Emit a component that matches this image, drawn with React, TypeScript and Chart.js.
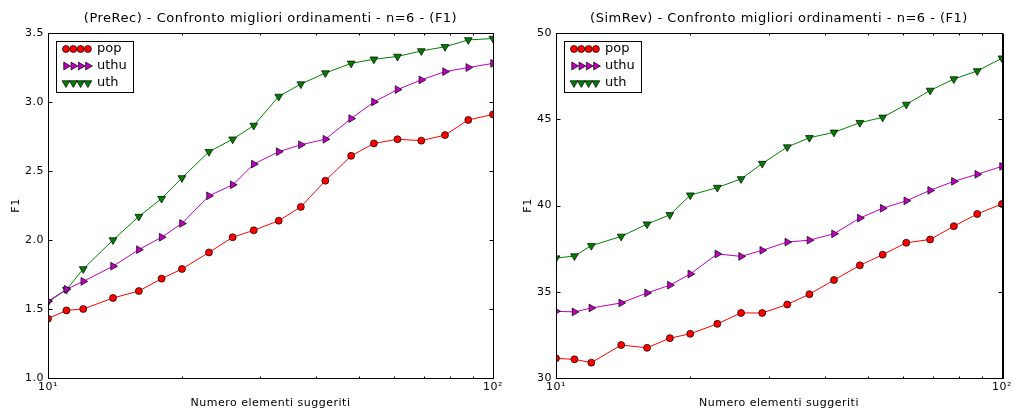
import React, { useEffect, useRef } from 'react';
import { Chart, registerables } from 'chart.js';

Chart.register(...registerables);

// ---------- data ----------
const xValues = [10, 11, 12, 14, 16, 18, 20, 23, 26, 29, 33, 37, 42, 48, 54, 61, 69, 78, 88, 100];

const preRecPop = [1.43, 1.49, 1.50, 1.58, 1.63, 1.72, 1.79, 1.91, 2.02, 2.07, 2.14, 2.24, 2.43, 2.61, 2.70, 2.73, 2.72, 2.76, 2.87, 2.91];
const preRecUthu = [1.556, 1.643, 1.70, 1.81, 1.93, 2.02, 2.12, 2.32, 2.40, 2.55, 2.64, 2.69, 2.73, 2.88, 3.00, 3.09, 3.16, 3.22, 3.25, 3.28];
const preRecUth = [1.55, 1.64, 1.79, 2.00, 2.17, 2.30, 2.45, 2.64, 2.73, 2.83, 3.04, 3.13, 3.21, 3.28, 3.31, 3.33, 3.37, 3.40, 3.45, 3.46];

const simRevPop = [31.14, 31.08, 30.89, 31.91, 31.75, 32.31, 32.56, 33.14, 33.77, 33.77, 34.26, 34.86, 35.68, 36.53, 37.15, 37.84, 38.03, 38.80, 39.51, 40.09];
const simRevUthu = [33.87, 33.83, 34.06, 34.35, 34.93, 35.38, 36.03, 37.19, 37.05, 37.40, 37.88, 37.99, 38.36, 39.27, 39.84, 40.27, 40.88, 41.40, 41.81, 42.27];
const simRevUth = [36.95, 37.07, 37.67, 38.21, 38.92, 39.46, 40.60, 41.04, 41.54, 42.43, 43.39, 43.93, 44.24, 44.80, 45.11, 45.86, 46.67, 47.33, 47.80, 48.54];

const seriesLabels = ['pop', 'uthu', 'uth'];
const seriesColors = ['#ff0000', '#bf00bf', '#008000'];
const seriesMarkers = ['circle', 'right', 'down'];

const xTickMarks = [10, 20, 30, 40, 50, 60, 70, 80, 90, 100];
const xMajorLabels: Record<number, string> = { 10: '10\u00b9', 100: '10\u00b2' };

const titleLeft = '(PreRec) - Confronto migliori ordinamenti - n=6 - (F1)';
const titleRight = '(SimRev) - Confronto migliori ordinamenti - n=6 - (F1)';
const xAxisLabel = 'Numero elementi suggeriti';
const yAxisLabel = 'F1';

const leftYRange = { min: 1.0, max: 3.5, step: 0.5, decimals: 1 };
const rightYRange = { min: 30, max: 50, step: 5, decimals: 0 };

const FONT = '"DejaVu Sans", "Liberation Sans", sans-serif';

// ---------- helpers ----------
function drawMarker(ctx: CanvasRenderingContext2D, kind: string, x: number, y: number, color: string) {
  ctx.save();
  ctx.fillStyle = color;
  ctx.strokeStyle = '#000';
  ctx.lineWidth = 0.7;
  ctx.beginPath();
  if (kind === 'circle') {
    ctx.arc(x, y, 3.5, 0, Math.PI * 2);
  } else {
    const r = 4.5;
    const rot = kind === 'right' ? Math.PI / 2 : Math.PI;
    for (let i = 0; i < 3; i++) {
      const a = rot + (i * 2 * Math.PI) / 3;
      const px = x + Math.sin(a) * r;
      const py = y - Math.cos(a) * r;
      if (i === 0) ctx.moveTo(px, py);
      else ctx.lineTo(px, py);
    }
    ctx.closePath();
  }
  ctx.fill();
  ctx.stroke();
  ctx.restore();
}

function makeDecor(title: string, yLabelX: number, thickRight: boolean) {
  return {
    id: 'decor',
    beforeDraw(chart: any) {
      (chart.ctx as any).letterSpacing = '0.5px';
    },
    afterDraw(chart: any) {
      const { ctx, chartArea: a, scales } = chart;
      const xs = scales.x;
      const ys = scales.y;
      const L = Math.round(a.left) + 0.5;
      const R = Math.round(a.right) + 0.5;
      const T = Math.round(a.top) + 0.5;
      const B = Math.round(a.bottom) + 0.5;
      ctx.save();
      ctx.strokeStyle = '#000';
      ctx.lineWidth = 1;
      const line = (x1: number, y1: number, x2: number, y2: number) => {
        ctx.beginPath();
        ctx.moveTo(x1, y1);
        ctx.lineTo(x2, y2);
        ctx.stroke();
      };
      ys.ticks.forEach((t: any) => {
        const py = Math.round(ys.getPixelForValue(t.value)) + 0.5;
        line(L, py, L + 4, py);
        line(R, py, R - 4, py);
      });
      xTickMarks.forEach((v) => {
        const px = Math.round(xs.getPixelForValue(v)) + 0.5;
        const len = v === 10 || v === 100 ? 4 : 2;
        line(px, B, px, B - len);
        line(px, T, px, T + len);
      });
      ctx.strokeRect(L, T, R - L, B - T);
      if (thickRight) line(R + 1, T, R + 1, B + 0.5);

      ctx.fillStyle = '#000';
      ctx.textAlign = 'center';
      ctx.textBaseline = 'middle';
      (ctx as any).letterSpacing = '0.5px';
      ctx.font = `13px ${FONT}`;
      ctx.fillText(title, (a.left + a.right) / 2, 19);
      ctx.font = `11px ${FONT}`;
      ctx.fillText(xAxisLabel, (a.left + a.right) / 2, 403);
      ctx.save();
      ctx.translate(yLabelX, (a.top + a.bottom) / 2);
      ctx.rotate(-Math.PI / 2);
      ctx.fillText(yAxisLabel, 0, 0);
      ctx.restore();

      // legend
      const bx = Math.round(a.left) + 8.5;
      const by = Math.round(a.top) + 8.5;
      ctx.fillStyle = '#fff';
      ctx.fillRect(bx, by, 77, 51);
      ctx.strokeStyle = '#000';
      ctx.lineWidth = 1;
      ctx.strokeRect(bx, by, 77, 51);
      (ctx as any).letterSpacing = '0px';
      ctx.font = `13px ${FONT}`;
      ctx.textAlign = 'left';
      ctx.textBaseline = 'middle';
      seriesLabels.forEach((lab, i) => {
        const cy = a.top + 16 + i * 17;
        [18, 25.3, 32.6, 39.9].forEach((dx) => {
          drawMarker(ctx, seriesMarkers[i], a.left + dx, cy, seriesColors[i]);
        });
        ctx.fillStyle = '#000';
        ctx.fillText(lab, a.left + 49, cy);
      });
      ctx.restore();
    },
  };
}

function buildConfig(series: number[][], yr: typeof leftYRange, yWidth: number, rightPad: number, title: string, yLabelX: number, thickRight: boolean): any {
  const datasets = series.map((vals, i) => ({
    label: seriesLabels[i],
    data: xValues.map((x, j) => ({ x, y: vals[j] })),
    borderColor: seriesColors[i],
    backgroundColor: seriesColors[i],
    borderWidth: 1,
    pointBorderColor: '#000',
    pointBorderWidth: 0.7,
    pointBackgroundColor: seriesColors[i],
    pointStyle: seriesMarkers[i] === 'circle' ? 'circle' : 'triangle',
    rotation: seriesMarkers[i] === 'right' ? 90 : seriesMarkers[i] === 'down' ? 180 : 0,
    pointRadius: seriesMarkers[i] === 'circle' ? 3.5 : 4.5,
    tension: 0,
    clip: 0,
  }));
  return {
    type: 'line',
    data: { datasets },
    options: {
      animation: false,
      responsive: false,
      devicePixelRatio: 1,
      layout: { padding: { top: 33, right: rightPad, left: 0, bottom: 0 } },
      plugins: { legend: { display: false }, title: { display: false }, tooltip: { enabled: false } },
      scales: {
        x: {
          type: 'logarithmic',
          min: 10,
          max: 100,
          grid: { display: false, drawTicks: false },
          border: { display: false },
          afterFit: (s: any) => { s.height = 33; },
          ticks: {
            autoSkip: false,
            maxRotation: 0,
            padding: 3,
            color: '#000',
            font: { family: FONT, size: 11 },
            callback: (v: any) => xMajorLabels[Number(v)] ?? '',
          },
        },
        y: {
          type: 'linear',
          min: yr.min,
          max: yr.max,
          grid: { display: false, drawTicks: false },
          border: { display: false },
          afterFit: (s: any) => { s.width = yWidth; },
          ticks: {
            stepSize: yr.step,
            padding: 4,
            color: '#000',
            font: { family: FONT, size: 11 },
            callback: (v: any) => Number(v).toFixed(yr.decimals),
          },
        },
      },
    },
    plugins: [makeDecor(title, yLabelX, thickRight)],
  };
}

function Panel(props: { left: number; width: number; config: any }) {
  const ref = useRef<HTMLCanvasElement | null>(null);
  useEffect(() => {
    if (!ref.current) return;
    const chart = new Chart(ref.current, props.config);
    return () => chart.destroy();
  }, []);
  return (
    <canvas
      ref={ref}
      width={props.width}
      height={411}
      style={{ position: 'absolute', left: props.left, top: 0, width: props.width, height: 411, display: 'block' }}
    />
  );
}

export default function App() {
  const leftCfg = buildConfig([preRecPop, preRecUthu, preRecUth], leftYRange, 48, 17, titleLeft, 16, false);
  const rightCfg = buildConfig([simRevPop, simRevUthu, simRevUth], rightYRange, 46, 13, titleRight, 18, true);
  return (
    <div style={{ position: 'absolute', left: 0, top: 0, width: 1015, height: 411, background: '#fff', overflow: 'hidden' }}>
      <Panel left={0} width={510} config={leftCfg} />
      <Panel left={510} width={505} config={rightCfg} />
    </div>
  );
}
